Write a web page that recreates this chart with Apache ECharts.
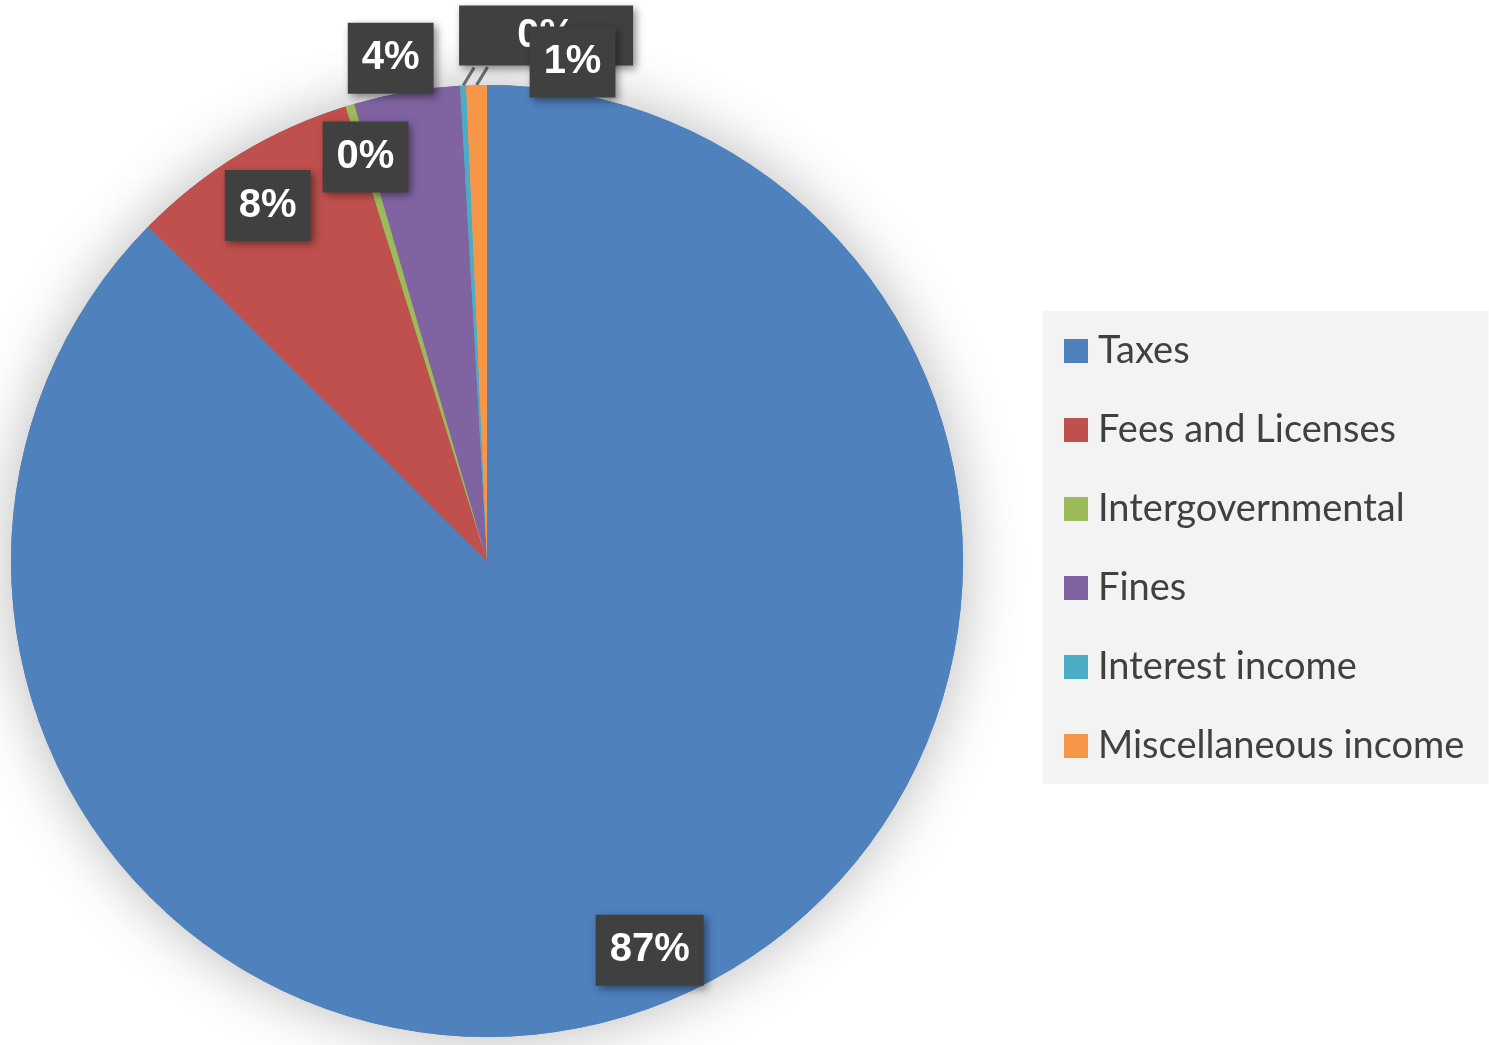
<!DOCTYPE html>
<html>
<head>
<meta charset="utf-8">
<script src="https://cdn.jsdelivr.net/npm/echarts@6/dist/echarts.min.js"></script>
<style>
html,body{margin:0;padding:0;background:#fff;}
#c{width:1489px;height:1045px;}
</style>
</head>
<body>
<div id="c"></div>
<script>
const categories = ['Taxes', 'Fees and Licenses', 'Intergovernmental', 'Fines', 'Interest income', 'Miscellaneous income'];
const values = [87.4, 7.8, 0.3, 3.6, 0.2, 0.7];
const colors = ['#4f81bd', '#c0504d', '#9bbb59', '#8064a2', '#4bacc6', '#f79646'];

const innerLabelIdx = [0, 1, 2];
const outerLabelIdx = [3];
const leaderLabelIdx = [4, 5];

const chart = echarts.init(document.getElementById('c'));
const CX = 487, CY = 561, R = 476;

const boxLabel = {
  color: '#ffffff',
  fontFamily: 'Liberation Sans, Arial, sans-serif',
  fontWeight: 'bold',
  fontSize: 40,
  backgroundColor: '#404040',
  padding: [17, 14, 14, 14],
  shadowBlur: 8,
  shadowColor: 'rgba(0,0,0,0.45)',
  shadowOffsetX: 3,
  shadowOffsetY: 3,
  formatter: p => Math.round(p.percent) + '%'
};

function mkData(showIdx, extra) {
  return categories.map((name, i) => Object.assign({
    name: name,
    value: values[i],
    itemStyle: { color: colors[i] },
    label: { show: showIdx.indexOf(i) >= 0 }
  }, extra ? extra(i) : {}));
}

// leader-line labels: offsets from the slice's edge point
const leaderOffsets = { 4: [83, -50], 5: [96, -23] };
// small nudges of the in-slice / beside-slice labels
const labelNudge = { 1: [0, 5], 3: [-9, 7] };

const option = {
  backgroundColor: '#ffffff',
  animation: false,
  legend: {
    orient: 'vertical',
    left: 1043,
    top: 311,
    padding: [20, 24, 18, 21],
    backgroundColor: '#f3f3f3',
    itemWidth: 24,
    itemHeight: 24,
    itemGap: 39,
    icon: 'rect',
    itemStyle: { shadowBlur: 0, shadowColor: 'transparent', borderWidth: 0 },
    textStyle: { fontSize: 38, lineHeight: 40, color: '#404040', fontFamily: 'Lato, sans-serif', padding: [0, 0, 0, 5] },
    data: categories
  },
  series: [
    {
      type: 'pie', name: 'shadow', center: [CX, CY], radius: R, startAngle: 90, clockwise: true,
      silent: true, label: { show: false }, labelLine: { show: false },
      itemStyle: { shadowBlur: 60, shadowColor: 'rgba(0,0,0,0.28)' },
      data: mkData([])
    },
    {
      type: 'pie', name: 'main', center: [CX, CY], radius: R, startAngle: 90, clockwise: true,
      silent: true, avoidLabelOverlap: false,
      label: Object.assign({ position: 'outside' }, boxLabel),
      labelLine: { show: true, length: 18, length2: 0, lineStyle: { color: '#7a7a7a', width: 3 } },
      labelLayout: function (p) {
        const off = leaderOffsets[p.dataIndex];
        if (!off || !p.labelLinePoints) return { hideOverlap: false };
        const s = p.labelLinePoints[0];
        return {
          hideOverlap: false,
          x: s[0] + off[0],
          y: s[1] + off[1],
          align: 'center',
          verticalAlign: 'middle',
          labelLinePoints: [[s[0], s[1]], [s[0] + 11, s[1] - 18]]
        };
      },
      data: mkData(leaderLabelIdx, i => i === 4 ? {
        label: { show: true, width: 146, align: 'center', padding: [11, 14, 9, 14] }
      } : {})
    },
    {
      type: 'pie', name: 'labelsInner', center: [CX, CY], radius: [R * 0.76, R], startAngle: 90, clockwise: true,
      silent: true, avoidLabelOverlap: false, itemStyle: { color: 'transparent' },
      label: Object.assign({ position: 'inside' }, boxLabel),
      labelLine: { show: false },
      labelLayout: { hideOverlap: false },
      data: mkData(innerLabelIdx, i => ({
        itemStyle: { color: 'transparent' },
        label: { show: innerLabelIdx.indexOf(i) >= 0, offset: labelNudge[i] || [0, 0] }
      }))
    },
    {
      type: 'pie', name: 'labelsOuter', center: [CX, CY], radius: [R, R * 1.16], startAngle: 90, clockwise: true,
      silent: true, avoidLabelOverlap: false, itemStyle: { color: 'transparent' },
      label: Object.assign({ position: 'inside' }, boxLabel),
      labelLine: { show: false },
      labelLayout: { hideOverlap: false },
      data: mkData(outerLabelIdx, i => ({
        itemStyle: { color: 'transparent' },
        label: { show: outerLabelIdx.indexOf(i) >= 0, offset: labelNudge[i] || [0, 0] }
      }))
    }
  ]
};
chart.setOption(option);
</script>
</body>
</html>
